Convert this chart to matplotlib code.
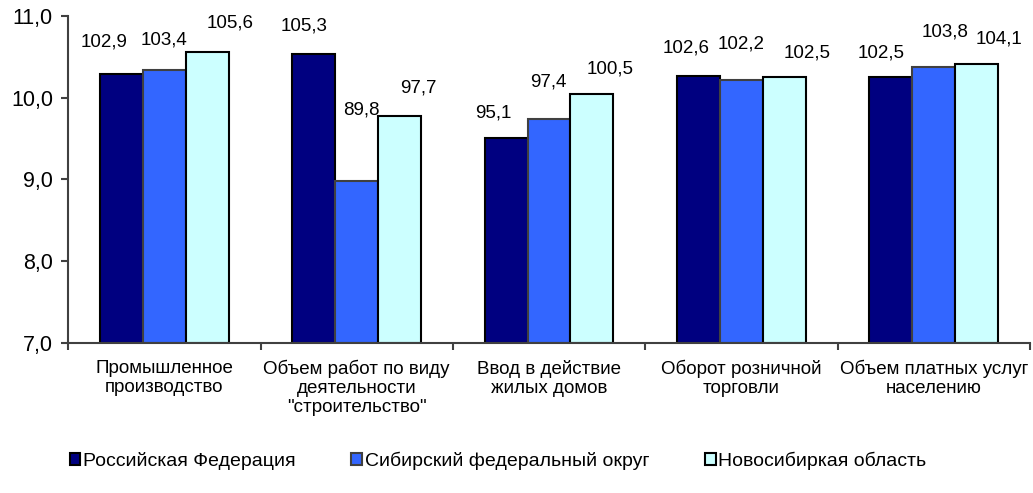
import matplotlib.pyplot as plt
import numpy as np

plt.rcParams['font.family'] = ['Liberation Sans', 'DejaVu Sans']

categories = ['Промышленное\nпроизводство',
              'Объем работ по виду\nдеятельности\n"строительство"',
              'Ввод в действие\nжилых домов',
              'Оборот розничной\nторговли',
              'Объем платных услуг\nнаселению']
series = ['Российская Федерация', 'Сибирский федеральный округ', 'Новосибиркая область']
rf = [102.9, 105.3, 95.1, 102.6, 102.5]
sfo = [103.4, 89.8, 97.4, 102.2, 103.8]
nso = [105.6, 97.7, 100.5, 102.5, 104.1]

# hand-placed label offsets (pixels, from bar top centre), one row per series
label_dx = [[-17, -10, -13, -12, -10],
            [0, 5, -1, 0, 11],
            [23, 19, 18, 23, 22]]
label_dy = [[32, 28, 25, 28, 24],
            [30, 71, 37, 36, 35],
            [29, 28, 25, 24, 25]]

colors = ['#000080', '#3366ff', '#ccffff']
edges = ['black', '#404040', 'black']

fig = plt.figure(figsize=(10.33, 4.93), dpi=100)
ax = fig.add_axes([0.066, 0.304, 0.931, 0.664])

x = np.arange(len(categories))
w = 0.223
for i, (vals, c, ec) in enumerate(zip([rf, sfo, nso], colors, edges)):
    pos = x + (i - 1) * w
    h = np.array(vals) / 10
    ax.bar(pos, h - 7, w, bottom=7, color=c, edgecolor=ec, linewidth=1.5, label=series[i])
    for j, (p, v) in enumerate(zip(pos, vals)):
        ax.annotate(f'{v:.1f}'.replace('.', ','), (p, v / 10),
                    xytext=(label_dx[i][j], label_dy[i][j]), textcoords='offset pixels',
                    ha='center', va='center', fontsize=13.5)

ax.set_ylim(7, 11)
ax.set_xlim(-0.5, len(categories) - 0.5)
ax.set_yticks([7, 8, 9, 10, 11])
ax.set_yticklabels(['7,0', '8,0', '9,0', '10,0', '11,0'], fontsize=15.5)
ax.set_xticks(x)
ax.set_xticklabels(categories, fontsize=13.5, linespacing=1.15)
ax.tick_params(axis='x', length=0, pad=12)
ax.set_xticks(np.arange(len(categories) + 1) - 0.5, minor=True)
ax.tick_params(axis='x', which='minor', length=5, width=1.5, color='#404040')
ax.tick_params(axis='y', length=5, width=1.5, color='#404040', direction='out', pad=6)
for s in ['top', 'right']:
    ax.spines[s].set_visible(False)
for s in ['left', 'bottom']:
    ax.spines[s].set_color('#404040')
    ax.spines[s].set_linewidth(1.5)

leg = fig.legend(loc='center left', bbox_to_anchor=(0.058, 0.066), ncol=3, frameon=False,
                 fontsize=14, handlelength=0.55, handleheight=0.55, handletextpad=0.15,
                 columnspacing=2.85, borderpad=0)

fig.savefig('out.png', dpi=100)
